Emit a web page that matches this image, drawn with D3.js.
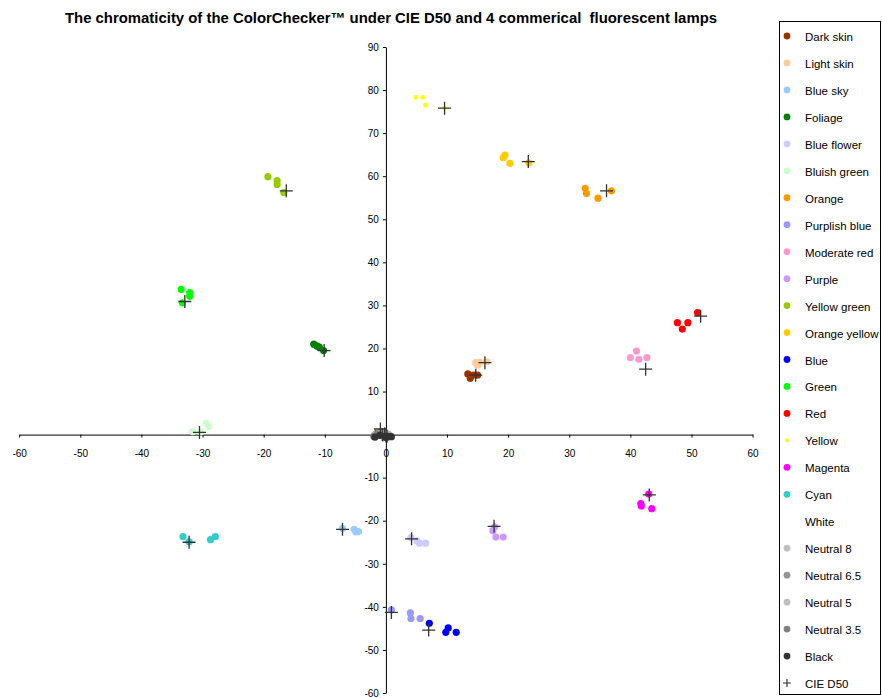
<!DOCTYPE html>
<html>
<head>
<meta charset="utf-8">
<script src="https://cdn.jsdelivr.net/npm/d3@7"></script>
<style>
  body { margin: 0; background: #fff; }
  text { font-family: "Liberation Sans", Arial, sans-serif; }
</style>
</head>
<body>
<div id="chart"></div>
<script>
// patch names in legend order
const patchNames = ["Dark skin", "Light skin", "Blue sky", "Foliage", "Blue flower", "Bluish green",
    "Orange", "Purplish blue", "Moderate red", "Purple", "Yellow green", "Orange yellow",
    "Blue", "Green", "Red", "Yellow", "Magenta", "Cyan",
    "White", "Neutral 8", "Neutral 6.5", "Neutral 5", "Neutral 3.5", "Black"];

const patchColors = ["#993300", "#FFCC99", "#99CCFF", "#008000", "#CCCCFF", "#CCFFCC",
    "#FF9900", "#9999FF", "#FF99CC", "#CC99FF", "#99CC00", "#FFCC00",
    "#0000FF", "#00FF00", "#FF0000", "#FFFF00", "#FF00FF", "#33CCCC",
    "#FFFFFF", "#C0C0C0", "#969696", "#C0C0C0", "#808080", "#333333"];

// [a, b] of each patch under the 4 fluorescent lamps
const lampPoints = [
    [[13.4, 14.1], [13.8, 13.1], [14.3, 13.8], [15.0, 13.8]],
    [[14.7, 16.7], [15.0, 16.1], [15.4, 16.8], [16.5, 16.9]],
    [[-5.2, -22.0], [-4.5, -22.5], [-4.9, -22.6], [-7.1, -21.8]],
    [[-11.8, 21.0], [-11.3, 20.6], [-10.9, 20.3], [-10.2, 19.5]],
    [[4.1, -23.9], [5.1, -24.7], [5.5, -25.2], [6.5, -25.2]],
    [[-31.6, 0.7], [-30.3, 0.6], [-29.4, 2.6], [-29.0, 1.9]],
    [[32.6, 57.2], [32.8, 56.0], [34.7, 54.9], [36.9, 56.6]],
    [[0.9, -40.7], [4.0, -41.4], [4.1, -42.7], [5.6, -42.7]],
    [[40.0, 17.9], [41.0, 19.4], [41.4, 17.5], [42.7, 17.9]],
    [[17.5, -22.3], [17.8, -21.4], [18.0, -23.8], [19.2, -23.8]],
    [[-19.3, 59.9], [-17.8, 59.0], [-17.8, 58.1], [-16.7, 56.2]],
    [[19.2, 64.3], [19.5, 64.9], [20.3, 63.0], [23.4, 63.1]],
    [[7.1, -43.8], [9.8, -45.9], [10.2, -44.9], [11.5, -45.9]],
    [[-33.5, 33.7], [-32.1, 33.0], [-32.1, 32.1], [-33.3, 30.6]],
    [[47.7, 26.0], [48.5, 24.5], [49.4, 26.0], [51.0, 28.3]],
    [[4.9, 78.3], [6.0, 78.3], [6.5, 76.5], [9.6, 75.8]],
    [[41.7, -16.0], [41.8, -16.6], [43.0, -13.8], [43.5, -17.2]],
    [[-33.2, -23.7], [-32.2, -24.9], [-28.7, -24.4], [-27.9, -23.7]],
    [[-0.4, 0.2], [-1.0, 0.5], [0.3, -0.3], [-1.4, -0.1]],
    [[-1.1, 0.4], [0.0, -0.2], [0.4, 0.1], [-1.6, -0.3]],
    [[-1.3, 0.3], [0.1, -0.4], [0.6, -0.2], [-1.8, 0.0]],
    [[-1.2, 0.2], [0.2, -0.5], [0.7, -0.3], [-1.9, -0.2]],
    [[-1.4, 0.1], [0.3, -0.6], [0.8, -0.4], [-2.0, -0.4]],
    [[-1.0, -0.2], [0.0, -0.7], [0.9, -0.5], [-1.8, -0.6]]
];

// [a, b] of each patch under CIE D50
const d50Points = [
    [14.7, 13.8], [16.2, 16.7], [-7.1, -22.0], [-10.1, 19.5], [4.2, -24.2], [-30.5, 0.5],
    [36.1, 56.6], [0.9, -41.3], [42.5, 15.2], [17.7, -21.3], [-16.3, 56.6], [23.3, 63.4],
    [7.0, -45.4], [-32.9, 30.9], [51.5, 27.5], [9.6, 75.8], [43.1, -14.0], [-32.2, -25.0],
    [-0.6, 0.0], [-0.9, 1.3], [-0.2, 0.2], [-0.5, -0.1], [0.0, -0.3], [0.2, -0.4]
];

const xTicks = d3.range(-60, 61, 10);
const yTicks = d3.range(-60, 91, 10);
const titleText = "The chromaticity of the ColorChecker\u2122 under CIE D50 and 4 commerical  fluorescent lamps";
const crossLabel = "CIE D50";

function ChromaChart(parentElement) {
    let vis = this;
    vis.parentElement = parentElement;
    vis.initVis();
}

ChromaChart.prototype.initVis = function() {
    let vis = this;

    vis.width = 882;
    vis.height = 698;
    vis.svg = d3.select("#" + vis.parentElement).append("svg")
        .attr("width", vis.width)
        .attr("height", vis.height);

    // plot area
    vis.x = d3.scaleLinear().domain([-60, 60]).range([19.2, 752.6]);
    vis.y = d3.scaleLinear().domain([-60, 90]).range([693, 47]);

    vis.svg.append("text")
        .attr("x", 391)
        .attr("y", 23)
        .attr("text-anchor", "middle")
        .attr("font-size", "14.9px")
        .attr("font-weight", "bold")
        .attr("xml:space", "preserve")
        .style("white-space", "pre")
        .text(titleText);

    vis.updateVis();
}

ChromaChart.prototype.updateVis = function() {
    let vis = this;

    // axes cross at the origin, plain hyphen for negatives
    let fmt = d => String(d);
    let xAxis = d3.axisBottom(vis.x).tickValues(xTicks).tickFormat(fmt)
        .tickSize(3).tickSizeOuter(0).tickPadding(12);
    let yAxis = d3.axisLeft(vis.y).tickValues(yTicks).tickFormat(fmt)
        .tickSize(3).tickSizeOuter(0).tickPadding(4);

    let gx = vis.svg.append("g")
        .attr("transform", "translate(0," + vis.y(0) + ")")
        .call(xAxis);
    let gy = vis.svg.append("g")
        .attr("transform", "translate(" + vis.x(0) + ",0)")
        .call(yAxis);

    [gx, gy].forEach(g => {
        g.selectAll("text").attr("font-size", "10px").attr("fill", "#000");
        g.selectAll("line, path").attr("stroke", "#000");
        g.attr("font-family", null);
    });

    // lamp dots, one group per patch
    let series = vis.svg.selectAll(".patch")
        .data(lampPoints)
        .join("g")
        .attr("class", "patch")
        .attr("fill", (d, i) => patchColors[i]);

    series.selectAll("circle")
        .data((d, i) => d.map(p => ({p: p, i: i})))
        .join("circle")
        .attr("cx", d => vis.x(d.p[0]))
        .attr("cy", d => vis.y(d.p[1]))
        .attr("r", d => patchNames[d.i] === "Yellow" ? 2.4 : 3.6);

    // D50 crosses on top
    let cs = 6.5;
    vis.svg.selectAll(".d50")
        .data(d50Points)
        .join("path")
        .attr("class", "d50")
        .attr("d", d => {
            let cx = vis.x(d[0]), cy = vis.y(d[1]);
            return "M" + (cx - cs) + "," + cy + "H" + (cx + cs) + "M" + cx + "," + (cy - cs) + "V" + (cy + cs);
        })
        .attr("stroke", "#333")
        .attr("stroke-width", 1.3)
        .attr("fill", "none");

    // legend
    let lg = vis.svg.append("g");
    lg.append("rect")
        .attr("x", 779.5)
        .attr("y", 21.5)
        .attr("width", 101)
        .attr("height", 673)
        .attr("fill", "#fff")
        .attr("stroke", "#000");

    let items = patchNames.concat([crossLabel]);
    let ly = d3.scalePoint().domain(d3.range(items.length)).range([37, 684]);

    let rows = lg.selectAll(".item")
        .data(items)
        .join("g")
        .attr("class", "item")
        .attr("transform", (d, i) => "translate(0," + ly(i) + ")");

    rows.filter((d, i) => i < patchNames.length)
        .append("circle")
        .attr("cx", 787)
        .attr("cy", -1)
        .attr("r", d => d === "Yellow" ? 2 : 3.4)
        .attr("fill", (d, i) => patchColors[i]);

    rows.filter(d => d === crossLabel)
        .append("path")
        .attr("d", "M783,-1H791M787,-5V3")
        .attr("stroke", "#333")
        .attr("stroke-width", 1.2);

    rows.append("text")
        .attr("x", 805)
        .attr("y", 4)
        .attr("font-size", "11.5px")
        .attr("fill", "#000")
        .text(d => d);
}

let chart = new ChromaChart("chart");
</script>
</body>
</html>
